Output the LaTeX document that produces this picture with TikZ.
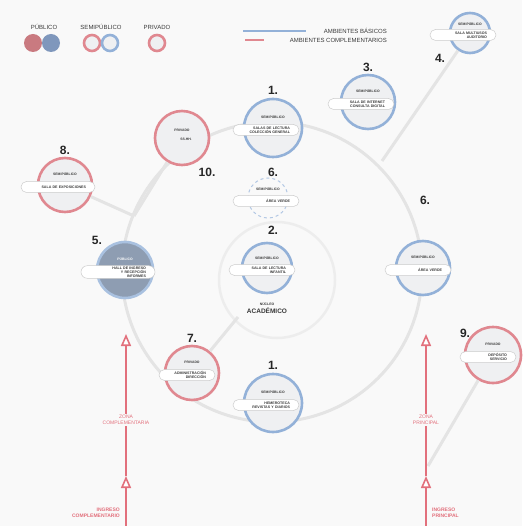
\documentclass[tikz,border=0pt]{standalone}
\usepackage{fontspec}
\setmainfont{Liberation Sans}
\usetikzlibrary{arrows.meta,shapes.misc,positioning}

\definecolor{azul}{HTML}{93B1D8}
\definecolor{rojo}{HTML}{E08890}
\definecolor{gris}{HTML}{E4E4E4}
\definecolor{fondo}{HTML}{F9F9F9}
\definecolor{relleno}{HTML}{EFF0F2}
\definecolor{publico}{HTML}{8E9DB2}
\definecolor{pubrojo}{HTML}{C97A80}
\definecolor{pubazul}{HTML}{7F97BC}
\definecolor{flecha}{HTML}{E2707C}
\definecolor{texto}{HTML}{3A3A3A}

\tikzset{
  basico/.style={circle, draw=azul, line width=2.6pt, fill=relleno, minimum size=#1, inner sep=0pt},
  basico/.default=56pt,
  complementario/.style={circle, draw=rojo, line width=2.6pt, fill=relleno, minimum size=#1, inner sep=0pt},
  complementario/.default=56pt,
  etiqueta/.style={rounded rectangle, draw=black!20, line width=0.5pt, fill=white,
    minimum width=68pt, minimum height=11pt, inner sep=1pt, text width=48pt, align=right,
    font=\fontsize{3.6}{4}\selectfont\bfseries, text=texto},
  tipo/.style={font=\fontsize{3.4}{3.8}\selectfont\bfseries, text=texto, inner sep=0pt},
  numero/.style={font=\fontsize{12}{13}\selectfont\bfseries, text=black!85, inner sep=1pt},
  conector/.style={gris, line width=3pt},
  flechaR/.style={flecha, line width=2pt, -{Triangle[length=12pt, width=10pt, fill=white, line width=1.6pt]}},
  zona/.style={font=\fontsize{5}{5.6}\selectfont, text=flecha, align=center, fill=fondo, inner sep=1pt},
  leyenda/.style={font=\fontsize{6}{6.5}\selectfont, text=texto, inner sep=0pt}
}

\begin{document}
\begin{tikzpicture}[x=1pt, y=-1pt]

  % Fondo
  \fill[fondo] (0,0) rectangle (522,526);
  \useasboundingbox (0,0) rectangle (522,526);

  % Leyenda
  \node[leyenda] (legPub) at (44,27) {P\'UBLICO};
  \node[leyenda] (legSemi) at (101,27) {SEMIP\'UBLICO};
  \node[leyenda] (legPriv) at (157,27) {PRIVADO};
  \node[circle, fill=pubrojo, minimum size=18pt] (pubR) at (33,43) {};
  \node[circle, fill=pubazul, minimum size=18pt] (pubA) at (51,43) {};
  \node[complementario=16pt] (semiR) at (92,43) {};
  \node[basico=16pt] (semiA) at (110,43) {};
  \node[complementario=16pt] (privR) at (157,43) {};

  \coordinate (lbA1) at (243,31);
  \coordinate (lbA2) at (306,31);
  \coordinate (lbR1) at (245,40);
  \coordinate (lbR2) at (264,40);
  \draw[azul, line width=1.5pt] (lbA1) -- (lbA2);
  \draw[rojo, line width=1.5pt] (lbR1) -- (lbR2);
  \node[leyenda, anchor=east] (legBas) at (387,31) {AMBIENTES B\'ASICOS};
  \node[leyenda, anchor=east] (legCom) at (387,40) {AMBIENTES COMPLEMENTARIOS};

  % Anillos de circulacion
  \draw[gris, line width=3pt] (272,272) circle (150pt);
  \draw[black!7, line width=2.5pt] (277,280) circle (58pt);

  % Puntos de union
  \coordinate (j4) at (382,161);
  \coordinate (j10) at (134,216);
  \coordinate (j7) at (238,317);
  \coordinate (j9) at (428,466);

  % Ambientes basicos
  \node[basico=58pt] (n1a) at (273,128) {};
  \node[basico=54pt] (n3) at (368,102) {};
  \node[basico=40pt] (n4) at (470,33) {};
  \node[circle, draw=azul!70, dashed, line width=1pt, fill=fondo, minimum size=40pt] (n6a) at (268,198) {};
  \node[basico=50pt] (n2) at (267,268) {};
  \node[basico=54pt] (n6b) at (423,268) {};
  \node[basico=58pt] (n1b) at (273,403) {};
  \node[circle, draw=azul!80, line width=2.6pt, fill=publico, minimum size=56pt] (n5) at (125,270) {};

  % Ambientes complementarios
  \node[complementario=54pt] (n8) at (65,185) {};
  \node[complementario=54pt] (n10) at (182,138) {};
  \node[complementario=54pt] (n7) at (192,373) {};
  \node[complementario=56pt] (n9) at (493,355) {};

  % Conexiones
  \draw[conector] (n4) -- (j4);
  \draw[conector] (n10) -- (j10);
  \draw[conector] (n8) -- (j10);
  \draw[conector] (n7) -- (j7);
  \draw[conector] (n9) -- (j9);

  % Tipos
  \node[tipo] (t1a) at ([yshift=11pt]n1a.center) {SEMIP\'UBLICO};
  \node[tipo] (t3) at ([yshift=11pt]n3.center) {SEMIP\'UBLICO};
  \node[tipo] (t4) at ([yshift=9pt]n4.center) {SEMIP\'UBLICO};
  \node[tipo] (t6a) at ([yshift=9pt]n6a.center) {SEMIP\'UBLICO};
  \node[tipo] (t2) at ([yshift=10pt]n2.center) {SEMIP\'UBLICO};
  \node[tipo] (t6b) at ([yshift=11pt]n6b.center) {SEMIP\'UBLICO};
  \node[tipo] (t1b) at ([yshift=11pt]n1b.center) {SEMIP\'UBLICO};
  \node[tipo, text=white] (t5) at ([yshift=11pt]n5.center) {P\'UBLICO};
  \node[tipo] (t8) at ([yshift=11pt]n8.center) {SEMIP\'UBLICO};
  \node[tipo] (t10) at ([yshift=8pt]n10.center) {PRIVADO};
  \node[tipo] (t7) at ([yshift=11pt]n7.center) {PRIVADO};
  \node[tipo] (t9) at ([yshift=11pt]n9.center) {PRIVADO};

  % Nombres
  \node[etiqueta] (e1a) at ([xshift=-7pt,yshift=-2pt]n1a.center) {SALAS DE LECTURA\\COLECCI\'ON GENERAL};
  \node[etiqueta] (e3) at ([xshift=-7pt,yshift=-2pt]n3.center) {SALA DE INTERNET\\CONSULTA DIGITAL};
  \node[etiqueta] (e4) at ([xshift=-7pt,yshift=-2pt]n4.center) {SALA MULTIUSOS\\AUDITORIO};
  \node[etiqueta] (e6a) at ([xshift=-2pt,yshift=-3pt]n6a.center) {\'AREA VERDE};
  \node[etiqueta] (e2) at ([xshift=-5pt,yshift=-2pt]n2.center) {SALA DE LECTURA\\INFANTIL};
  \node[etiqueta] (e6b) at ([xshift=-5pt,yshift=-2pt]n6b.center) {\'AREA VERDE};
  \node[etiqueta] (e1b) at ([xshift=-7pt,yshift=-2pt]n1b.center) {HEMEROTECA\\REVISTAS Y DIARIOS};
  \node[etiqueta, minimum width=76pt, text width=56pt] (e5) at ([xshift=-7pt,yshift=-2pt]n5.center) {HALL DE INGRESO Y RECEPCI\'ON\\INFORMES};
  \node[etiqueta, minimum width=76pt, text width=56pt] (e8) at ([xshift=-7pt,yshift=-2pt]n8.center) {SALA DE EXPOSICIONES};
  \node[tipo, align=right] (e10) at ([xshift=4pt,yshift=-1pt]n10.center) {SS.HH.};
  \node[etiqueta, minimum width=58pt, text width=38pt] (e7) at ([xshift=-5pt,yshift=-2pt]n7.center) {ADMINISTRACI\'ON\\DIRECCI\'ON};
  \node[etiqueta, minimum width=58pt, text width=38pt] (e9) at ([xshift=-5pt,yshift=-2pt]n9.center) {DEP\'OSITO\\SERVICIO};

  % Nucleo
  \node[tipo] (nucleo) at (267,304) {N\'UCLEO};
  \node[font=\fontsize{6.5}{7}\selectfont\bfseries, text=texto, inner sep=0pt, below=1.5pt of nucleo] (academico) {ACAD\'EMICO};

  % Numeros
  \node[numero, above=2pt of n1a] (num1a) {1.};
  \node[numero, above=1pt of n3] (num3) {3.};
  \node[numero] (num4) at (440,58) {4.};
  \node[numero] (num6a) at (273,172) {6.};
  \node[numero] (num2) at (273,230) {2.};
  \node[numero] (num6b) at (425,200) {6.};
  \node[numero, above=2pt of n1b] (num1b) {1.};
  \node[numero] (num5) at (97,240) {5.};
  \node[numero, above=1pt of n8] (num8) {8.};
  \node[numero] (num10) at (207,172) {10.};
  \node[numero, above=1pt of n7] (num7) {7.};
  \node[numero] (num9) at (465,333) {9.};

  % Ingreso complementario
  \coordinate (baseI) at (126,528);
  \coordinate (puntaI1) at (126,476);
  \coordinate (puntaI2) at (126,334);
  \draw[flechaR] (baseI) -- (puntaI1);
  \draw[flechaR] (puntaI1) -- (puntaI2);
  \node[zona] (zonaI) at (126,420) {ZONA\\COMPLEMENTARIA};
  \node[zona, anchor=east, align=right, font=\fontsize{5}{5.8}\selectfont\bfseries] (ingI) at (121,513) {INGRESO\\COMPLEMENTARIO};

  % Ingreso principal
  \coordinate (baseD) at (426,528);
  \coordinate (puntaD1) at (426,476);
  \coordinate (puntaD2) at (426,334);
  \draw[flechaR] (baseD) -- (puntaD1);
  \draw[flechaR] (puntaD1) -- (puntaD2);
  \node[zona] (zonaD) at (426,420) {ZONA\\PRINCIPAL};
  \node[zona, anchor=west, align=left, font=\fontsize{5}{5.8}\selectfont\bfseries] (ingD) at (431,513) {INGRESO\\PRINCIPAL};

\end{tikzpicture}
\end{document}
